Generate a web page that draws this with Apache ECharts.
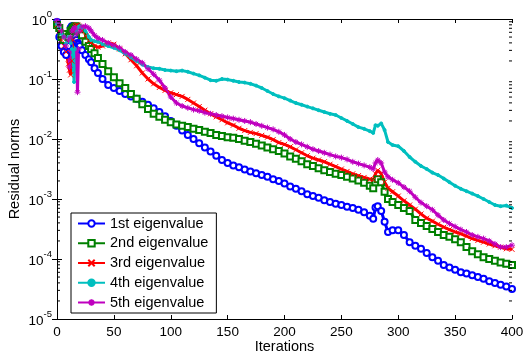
<!DOCTYPE html>
<html><head><meta charset="utf-8">
<script src="https://cdn.jsdelivr.net/npm/echarts@6/dist/echarts.min.js"></script>
<style>html,body{margin:0;padding:0;background:#fff}#c{width:526px;height:352px}</style>
</head><body><div id="c"></div>
<script>
const iterations = [0,2,4,6,8,10,11,12,13,14,15,16,17,18,19,20,22,25,28,30,33,36,40,
 45,50,55,60,65,70,75,80,85,90,95,100,105,110,115,120,125,130,135,140,145,150,155,160,165,170,175,180,185,190,195,200,
 205,210,215,220,225,230,235,240,245,250,255,260,265,270,275,278,280,282,285,288,291,
 295,300,305,310,315,320,325,330,335,340,345,350,355,360,365,370,375,380,385,390,395,400];

const res1st = [0.891,0.501,0.355,0.282,0.251,0.355,0.501,0.708,0.759,0.759,0.631,0.501,0.447,0.398,0.380,0.355,0.302,0.251,0.214,0.191,0.151,0.126,0.100,
 0.0794,0.0708,0.0631,0.0562,0.0513,0.0468,0.0417,0.0372,0.0324,0.0282,0.0240,0.0200,0.0166,0.0138,0.0117,0.0100,0.00851,0.00724,0.00617,0.00525,0.00447,0.00398,0.00363,0.00339,0.00309,0.00288,0.00269,0.00251,0.00234,0.00214,0.00200,0.00182,
 0.00162,0.00148,0.00135,0.00120,0.00112,0.00105,0.000955,0.000891,0.000832,0.000794,0.000741,0.000708,0.000661,0.000603,0.000525,0.000468,0.000724,0.000759,0.000631,0.000417,0.000282,
 0.000302,0.000302,0.000251,0.000191,0.000166,0.000148,0.000126,0.000107,0.0000933,0.0000794,0.0000724,0.0000661,0.0000603,0.0000575,0.0000537,0.0000501,0.0000468,0.0000427,0.0000398,0.0000372,0.0000347,0.0000316];

const res2nd = [0.794,0.708,0.501,0.447,0.562,0.501,0.562,0.631,0.661,0.708,0.724,0.759,0.741,0.708,0.661,0.603,0.537,0.417,0.355,0.316,0.269,0.224,0.178,
 0.135,0.107,0.0851,0.0708,0.0562,0.0468,0.0380,0.0316,0.0263,0.0234,0.0209,0.0191,0.0174,0.0166,0.0158,0.0148,0.0141,0.0132,0.0126,0.0117,0.0112,0.0107,0.0105,0.0100,0.00933,0.00891,0.00832,0.00776,0.00724,0.00676,0.00631,0.00575,
 0.00513,0.00468,0.00427,0.00380,0.00355,0.00324,0.00302,0.00282,0.00263,0.00251,0.00234,0.00219,0.00204,0.00186,0.00166,0.00151,0.00191,0.00214,0.00191,0.00132,0.00100,
 0.000891,0.000794,0.000708,0.000631,0.000447,0.000398,0.000355,0.000316,0.000282,0.000251,0.000234,0.000214,0.000191,0.000158,0.000135,0.000120,0.000107,0.000100,0.0000933,0.0000871,0.0000832,0.0000794];

const res3rd = [0.794,0.631,0.447,0.355,0.282,0.178,0.141,0.117,0.200,0.447,0.631,0.759,0.794,0.794,0.759,0.708,0.631,0.525,0.437,0.398,0.355,0.339,0.355,
 0.398,0.380,0.316,0.263,0.209,0.166,0.126,0.100,0.0832,0.0724,0.0646,0.0589,0.0550,0.0513,0.0457,0.0398,0.0347,0.0302,0.0263,0.0234,0.0209,0.0186,0.0170,0.0151,0.0138,0.0129,0.0123,0.0115,0.0107,0.00977,0.00871,0.00813,
 0.00741,0.00661,0.00589,0.00525,0.00479,0.00447,0.00417,0.00380,0.00347,0.00316,0.00288,0.00263,0.00245,0.00229,0.00214,0.00209,0.00263,0.00302,0.00263,0.00191,0.00151,
 0.00132,0.00112,0.000933,0.000794,0.000676,0.000562,0.000479,0.000427,0.000380,0.000339,0.000309,0.000282,0.000263,0.000240,0.000219,0.000204,0.000191,0.000178,0.000166,0.000158,0.000148,0.000145];

const res4th = [0.832,0.708,0.562,0.501,0.398,0.501,0.447,0.398,0.316,0.251,0.0891,0.316,0.631,0.708,0.741,0.759,0.708,0.631,0.501,0.447,0.427,0.417,0.380,
 0.355,0.331,0.302,0.263,0.229,0.200,0.174,0.158,0.151,0.148,0.141,0.138,0.135,0.138,0.132,0.123,0.115,0.105,0.0955,0.0933,0.100,0.0977,0.0933,0.0891,0.0871,0.0832,0.0776,0.0708,0.0631,0.0562,0.0513,0.0479,
 0.0437,0.0398,0.0372,0.0347,0.0324,0.0302,0.0282,0.0263,0.0251,0.0224,0.0200,0.0178,0.0158,0.0148,0.0135,0.0126,0.0170,0.0166,0.0182,0.0141,0.00891,
 0.00794,0.00759,0.00631,0.00501,0.00417,0.00355,0.00316,0.00275,0.00251,0.00219,0.00191,0.00166,0.00148,0.00135,0.00123,0.00112,0.00100,0.000891,0.000794,0.000759,0.000776,0.000708];

const res5th = [0.933,0.794,0.631,0.501,0.355,0.447,0.158,0.501,0.631,0.661,0.708,0.708,0.562,0.0603,0.316,0.631,0.741,0.759,0.708,0.631,0.537,0.479,0.447,
 0.398,0.363,0.331,0.282,0.251,0.214,0.186,0.148,0.120,0.0955,0.0708,0.0501,0.0398,0.0355,0.0331,0.0309,0.0295,0.0275,0.0263,0.0251,0.0240,0.0229,0.0219,0.0209,0.0200,0.0191,0.0178,0.0166,0.0155,0.0145,0.0132,0.0117,
 0.0100,0.00891,0.00813,0.00741,0.00676,0.00631,0.00589,0.00550,0.00513,0.00490,0.00457,0.00417,0.00389,0.00363,0.00339,0.00316,0.00398,0.00447,0.00398,0.00282,0.00234,
 0.00209,0.00186,0.00158,0.00135,0.00107,0.000871,0.000759,0.000661,0.000537,0.000447,0.000389,0.000347,0.000309,0.000282,0.000251,0.000234,0.000219,0.000200,0.000178,0.000158,0.000158,0.000170];

const seriesNames = ['1st eigenvalue','2nd eigenvalue','3rd eigenvalue','4th eigenvalue','5th eigenvalue'];
const xTickValues = [0,50,100,150,200,250,300,350,400];
const yMajorTicks = [1e-5,1e-4,1e-3,1e-2,1e-1,1];
const yMinorTicks = [2e-5,3e-5,4e-5,5e-5,6e-5,7e-5,8e-5,9e-5,
 2e-4,3e-4,4e-4,5e-4,6e-4,7e-4,8e-4,9e-4,
 2e-3,3e-3,4e-3,5e-3,6e-3,7e-3,8e-3,9e-3,
 2e-2,3e-2,4e-2,5e-2,6e-2,7e-2,8e-2,9e-2,
 0.2,0.3,0.4,0.5,0.6,0.7,0.8,0.9];

const FONT = '"Liberation Sans", Arial, Helvetica, sans-serif';
const xMin = xTickValues[0], xMax = xTickValues[xTickValues.length-1];
const yMin = yMajorTicks[0], yMax = yMajorTicks[yMajorTicks.length-1];

const CROSS = 'path://M0,0L10,10M10,0L0,10';
const STAR = 'path://M5,0L5,10M0,5L10,5M1.5,1.5L8.5,8.5M8.5,1.5L1.5,8.5';

function mk(name, vals, color, symbol, size, lw) {
  return {
    name, type: 'line', xAxisIndex: 0, yAxisIndex: 0,
    data: iterations.map((it, i) => [it, vals[i]]),
    symbol, symbolSize: size, showAllSymbol: true,
    lineStyle: { color, width: lw },
    itemStyle: { color, borderColor: color, borderWidth: 1 },
    emphasis: { disabled: true }, animation: false, clip: true
  };
}

const chart = echarts.init(document.getElementById('c'));
chart.setOption({
  animation: false,
  textStyle: { fontFamily: FONT },
  grid: { left: 57, top: 19, right: 14, bottom: 33, containLabel: false, outerBoundsMode: 'none' },
  xAxis: [{
    type: 'value', min: xMin, max: xMax, interval: 50,
    axisLine: { lineStyle: { color: '#000', width: 1 } },
    axisTick: { inside: true, length: 4, lineStyle: { color: '#000' } },
    axisLabel: { color: '#000', fontSize: 13.5, fontFamily: FONT, margin: 6 },
    splitLine: { show: false },
    name: 'Iterations', nameLocation: 'middle', nameGap: 20, nameMoveOverlap: false,
    nameTextStyle: { color: '#000', fontSize: 14.5, fontFamily: FONT }
  }, {
    type: 'value', min: xMin, max: xMax, interval: 50, position: 'top',
    axisLine: { lineStyle: { color: '#000', width: 1 } },
    axisTick: { inside: true, length: 4, lineStyle: { color: '#000' } },
    axisLabel: { show: false }, splitLine: { show: false }
  }],
  yAxis: [{
    type: 'log', logBase: 10, min: yMin, max: yMax,
    axisLine: { show: true, lineStyle: { color: '#000', width: 1 } },
    axisTick: { show: true, inside: true, length: 5, lineStyle: { color: '#000' } },
    axisLabel: {
      margin: 5,
      formatter: v => '{b|10}{s|' + Math.round(Math.log10(v)) + '}',
      rich: {
        b: { fontSize: 13.5, fontFamily: FONT, color: '#000', padding: [5, 0, 0, 0] },
        s: { fontSize: 9.5, fontFamily: FONT, color: '#000', verticalAlign: 'top' }
      }
    },
    splitLine: { show: false },
    name: 'Residual norms', nameLocation: 'middle', nameGap: 35, nameRotate: 90, nameMoveOverlap: false,
    nameTextStyle: { color: '#000', fontSize: 14.5, fontFamily: FONT }
  }, {
    type: 'log', logBase: 10, min: yMin, max: yMax, position: 'right',
    axisLine: { show: true, lineStyle: { color: '#000', width: 1 } },
    axisTick: { show: true, inside: true, length: 5, lineStyle: { color: '#000' } },
    axisLabel: { show: false }, splitLine: { show: false }
  }],
  legend: {
    data: seriesNames, orient: 'vertical', left: 71, top: 213,
    backgroundColor: '#fff', borderColor: '#000', borderWidth: 1, borderRadius: 0,
    padding: [3, 8, 3, 6], itemGap: 4.75, itemWidth: 27, itemHeight: 8,
    textStyle: { color: '#000', fontSize: 14.5, fontFamily: FONT, lineHeight: 15 }
  },
  series: [
    mk(seriesNames[0], res1st, '#0000ff', 'emptyCircle', 6, 3),
    mk(seriesNames[1], res2nd, '#008000', 'emptyRect', 6, 3),
    mk(seriesNames[2], res3rd, '#ff0000', CROSS, 5, 3),
    mk(seriesNames[3], res4th, '#00bfbf', 'circle', 3, 3),
    mk(seriesNames[4], res5th, '#bf00bf', STAR, 6, 3),
    {
      type: 'custom', name: 'minorTicks', xAxisIndex: 0, yAxisIndex: 0, silent: true, z: 5,
      data: yMinorTicks.map(v => [v]),
      encode: { y: 0 },
      renderItem: (params, api) => {
        const v = api.value(0);
        const pL = api.coord([xMin, v]);
        const pR = api.coord([xMax, v]);
        return { type: 'group', children: [
          { type: 'line', shape: { x1: pL[0], y1: pL[1], x2: pL[0] + 3, y2: pL[1] }, style: { stroke: '#000', lineWidth: 1 } },
          { type: 'line', shape: { x1: pR[0], y1: pR[1], x2: pR[0] - 3, y2: pR[1] }, style: { stroke: '#000', lineWidth: 1 } }
        ]};
      }
    }
  ]
});
</script></body></html>
